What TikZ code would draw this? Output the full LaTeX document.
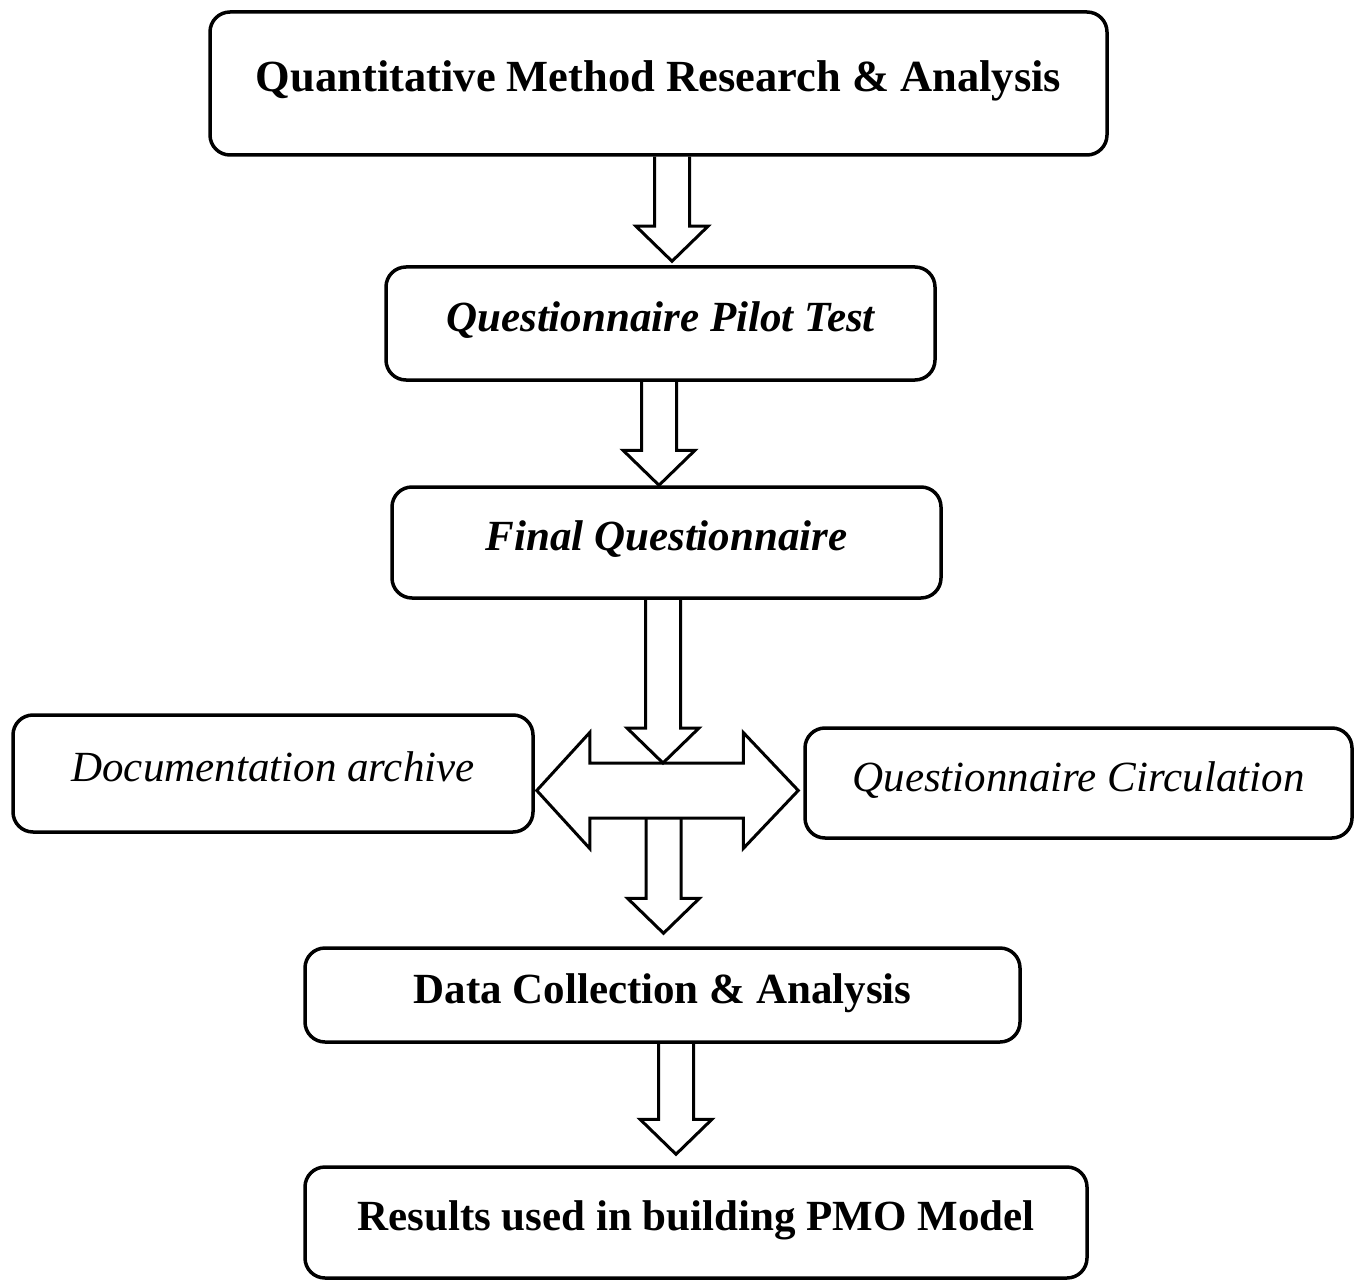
\documentclass[tikz,border=0pt]{standalone}
\usepackage{fontspec}
\setmainfont{Liberation Serif}
\usetikzlibrary{calc}

% hollow downward block arrow: shaft starts at the height of #1, tip at #2
\newcommand{\blockdown}[2]{%
  \draw[blockarrow] let \p1=(#1), \p2=(#2) in
    (\x2-17.5pt,\y1) -- (\x2-17.5pt,\y2+35pt) -- (\x2-36pt,\y2+35pt) -- (\x2,\y2)
    -- (\x2+36pt,\y2+35pt) -- (\x2+17.5pt,\y2+35pt) -- (\x2+17.5pt,\y1);}

\begin{document}
\begin{tikzpicture}[x=1pt, y=-1pt,
    box/.style={draw=black, line width=3.5pt, rounded corners=20pt,
        inner sep=0pt, text height=29pt, text depth=13pt,
        font=\fontsize{43}{48}\selectfont},
    blockarrow/.style={draw=black, line width=3pt, line join=miter}
]
    \useasboundingbox (0,0) rectangle (1357,1281);

    \node[box, minimum width=897pt, minimum height=143pt,
        font=\fontsize{44.5}{50}\selectfont\bfseries] (quant) at (658.5,83.5)
        {Quantitative Method Research \& Analysis};
    \node[box, minimum width=549pt, minimum height=113pt] (pilot) at (660.5,323.5)
        {\bfseries\itshape Questionnaire Pilot Test};
    \node[box, minimum width=549pt, minimum height=111pt] (final) at (666.5,542.5)
        {\bfseries\itshape Final Questionnaire};
    \node[box, minimum width=520pt, minimum height=117pt] (archive) at (273,773.5)
        {\itshape Documentation archive};
    \node[box, minimum width=547pt, minimum height=110pt] (circ) at (1078.5,783)
        {\itshape Questionnaire Circulation};
    \node[box, minimum width=715pt, minimum height=94pt] (data) at (662.5,995)
        {\bfseries Data Collection \& Analysis};
    \node[box, minimum width=782pt, minimum height=111pt] (result) at (696,1222.5)
        {\bfseries Results used in building PMO Model};

    \coordinate (hub) at (663,790.5);

    \blockdown{quant.south}{$(pilot.north)+(11.5,-4)$}
    \blockdown{pilot.south}{$(final.north)+(-7.5,0)$}
    \blockdown{final.south}{$(hub)+(0,-27.5)$}

    % two-headed arrow between the side boxes
    \draw[blockarrow] let \p1=(archive.east), \p2=(circ.west), \p3=(hub) in
        (\x1+2pt,\y3) -- (\x1+55pt,\y3+58pt) -- (\x1+55pt,\y3+27.5pt)
        -- (\x2-60pt,\y3+27.5pt) -- (\x2-60pt,\y3+58pt) -- (\x2-5pt,\y3)
        -- (\x2-60pt,\y3-58pt) -- (\x2-60pt,\y3-27.5pt) -- (\x1+55pt,\y3-27.5pt)
        -- (\x1+55pt,\y3-58pt) -- cycle;

    \blockdown{$(hub)+(0,27.5)$}{$(data.north)+(1,-13)$}
    \blockdown{data.south}{$(result.north)+(-20,-11)$}
\end{tikzpicture}
\end{document}
